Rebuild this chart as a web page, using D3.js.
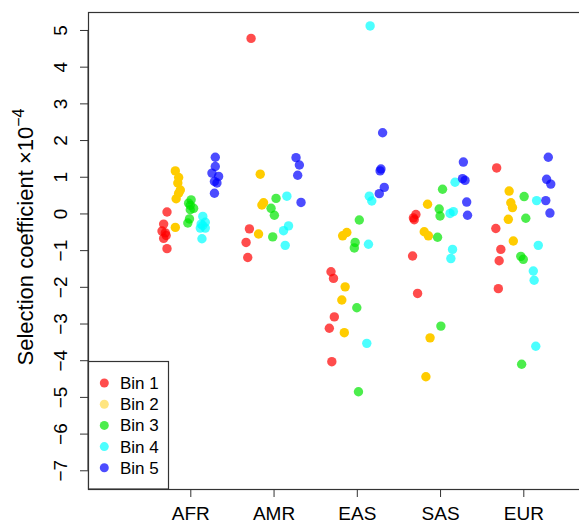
<!DOCTYPE html>
<html>
<head>
<meta charset="utf-8">
<title>Selection coefficient by bin</title>
<script src="https://cdn.jsdelivr.net/npm/d3@7"></script>
<style>
  body { margin: 0; background: #fff; }
  svg text { font-family: "Liberation Sans", Arial, sans-serif; fill: #000; }
</style>
</head>
<body>
<div id="chart"></div>
<script>
// populations on the x axis and the five bins
var pops = ["AFR", "AMR", "EAS", "SAS", "EUR"];
var bins = ["Bin 1", "Bin 2", "Bin 3", "Bin 4", "Bin 5"];
var yTicks = [-7, -6, -5, -4, -3, -2, -1, 0, 1, 2, 3, 4, 5];

// values (x 1e-4), one list per population
var bin1Values = [[0.04, -0.29, -0.48, -0.53, -0.6, -0.68, -0.96], [4.77, -0.42, -0.79, -1.2], [-1.59, -1.77, -2.82, -3.13, -4.04], [-0.03, -0.12, -0.17, -1.16, -2.18], [1.24, -0.41, -0.98, -1.29, -2.05]];
var bin2Values = [[1.16, 0.98, 0.83, 0.64, 0.55, 0.40, -0.38], [1.07, 0.29, 0.23, -0.56], [-0.52, -0.61, -2.0, -2.36, -3.25], [0.25, -0.5, -0.61, -3.39, -4.45], [0.61, 0.29, 0.16, -0.16, -0.75]];
var bin3Values = [[0.37, 0.28, 0.22, 0.14, 0.10, -0.15, -0.26], [0.41, 0.14, -0.05, -0.64], [-0.18, -0.79, -0.94, -2.57, -4.86], [0.66, 0.12, -0.07, -0.65, -3.07], [0.46, -0.13, -1.17, -1.25, -4.11]];
var bin4Values = [[-0.08, -0.24, -0.29, -0.33, -0.40, -0.40, -0.69], [0.47, -0.34, -0.47, -0.87], [5.11, 0.47, 0.34, -0.84, -3.54], [0.85, 0.05, 0.0, -0.98, -1.23], [0.35, -0.87, -1.57, -1.82, -3.62]];
var bin5Values = [[1.53, 1.28, 1.10, 1.01, 0.87, 0.83, 0.55], [1.52, 1.32, 1.04, 0.30], [2.20, 1.21, 1.16, 0.71, 0.54], [1.40, 0.95, 0.90, 0.31, -0.05], [1.53, 0.93, 0.80, 0.35, 0.01]];

// horizontal jitter of each point, in category units
var bin1Jitter = [[-0.28, -0.32, -0.34, -0.30, -0.29, -0.32, -0.28], [-0.27, -0.29, -0.33, -0.31], [-0.31, -0.28, -0.27, -0.33, -0.30], [-0.29, -0.32, -0.31, -0.33, -0.27], [-0.32, -0.33, -0.27, -0.29, -0.30]];
var bin2Jitter = [[-0.18, -0.14, -0.15, -0.12, -0.14, -0.17, -0.18], [-0.16, -0.12, -0.14, -0.18], [-0.12, -0.17, -0.14, -0.18, -0.15], [-0.15, -0.19, -0.14, -0.12, -0.17], [-0.17, -0.15, -0.13, -0.18, -0.12]];
var bin3Jitter = [[0.01, -0.02, 0.0, 0.04, 0.0, -0.01, -0.03], [0.03, -0.03, 0.01, -0.01], [0.03, -0.02, -0.03, 0.0, 0.02], [0.03, -0.01, 0.0, -0.03, 0.01], [0.01, 0.03, -0.03, 0.0, -0.02]];
var bin4Jitter = [[0.15, 0.18, 0.13, 0.15, 0.18, 0.12, 0.14], [0.16, 0.18, 0.12, 0.14], [0.16, 0.15, 0.18, 0.14, 0.12], [0.18, 0.16, 0.12, 0.15, 0.13], [0.16, 0.18, 0.12, 0.13, 0.15]];
var bin5Jitter = [[0.30, 0.30, 0.26, 0.34, 0.29, 0.32, 0.29], [0.27, 0.31, 0.29, 0.33], [0.31, 0.29, 0.28, 0.33, 0.27], [0.28, 0.27, 0.30, 0.32, 0.33], [0.30, 0.28, 0.33, 0.27, 0.32]];

var binColors = ["rgba(255,0,0,0.7)", "rgb(255,204,0)", "rgba(0,230,0,0.7)", "rgba(0,255,255,0.7)", "rgba(0,0,255,0.7)"];
var legendColors = ["rgba(255,0,0,0.7)", "rgba(255,204,0,0.5)", "rgba(0,230,0,0.7)", "rgba(0,255,255,0.7)", "rgba(0,0,255,0.7)"];

var width = 579, height = 522;
var plotLeft = 88, plotTop = 12, plotBottom = 489;

var svg = d3.select("#chart").append("svg").attr("width", width).attr("height", height);

var x = d3.scaleLinear().domain([1, 5]).range([190.3, 523.3]);
var y = d3.scaleLinear().domain([-7.51, 5.49]).range([plotBottom, plotTop]);

// flatten into points
var allValues = [bin1Values, bin2Values, bin3Values, bin4Values, bin5Values];
var allJitter = [bin1Jitter, bin2Jitter, bin3Jitter, bin4Jitter, bin5Jitter];
var points = [];
allValues.forEach(function(binVals, b) {
  binVals.forEach(function(vals, p) {
    vals.forEach(function(v, i) {
      points.push({bin: b, pop: p, value: v, dx: allJitter[b][p][i]});
    });
  });
});

svg.selectAll("circle.pt").data(points).enter().append("circle")
  .attr("class", "pt")
  .attr("cx", function(d) { return x(d.pop + 1 + d.dx); })
  .attr("cy", function(d) { return y(d.value); })
  .attr("r", 4.7)
  .attr("fill", function(d) { return binColors[d.bin]; });

// box
svg.append("rect").attr("x", plotLeft + 0.5).attr("y", plotTop + 0.5)
  .attr("width", 600).attr("height", plotBottom - plotTop)
  .attr("fill", "none").attr("stroke", "#333").attr("stroke-width", 1.2);

// y axis
var yAxis = svg.append("g").attr("transform", "translate(" + plotLeft + ",0)")
  .call(d3.axisLeft(y).tickValues(yTicks).tickSize(8).tickFormat(function(d) { return d < 0 ? "\u2212" + (-d) : d; }));
yAxis.select(".domain").attr("d", "M0," + y(-7) + "V" + y(5)).attr("stroke", "#333");
yAxis.selectAll(".tick line").attr("stroke", "#333");
yAxis.selectAll(".tick text")
  .attr("transform", "rotate(-90)")
  .attr("x", 0).attr("y", -21).attr("dy", null)
  .attr("text-anchor", "middle")
  .style("font-size", "19px");

// x axis
var xAxis = svg.append("g").attr("transform", "translate(0," + plotBottom + ")")
  .call(d3.axisBottom(x).tickValues([1, 2, 3, 4, 5]).tickSize(8).tickPadding(10)
    .tickFormat(function(d) { return pops[d - 1]; }));
xAxis.select(".domain").remove();
xAxis.selectAll(".tick line").attr("stroke", "#333");
xAxis.selectAll(".tick text").style("font-size", "19px");

// y label
var label = svg.append("text")
  .attr("transform", "translate(33,237) rotate(-90)")
  .attr("text-anchor", "middle")
  .style("font-size", "22px");
label.append("tspan").text("Selection coefficient \u00d710");
label.append("tspan").attr("dy", -9).style("font-size", "16px").text("\u22124");

// legend
var legend = svg.append("g");
legend.append("rect").attr("x", plotLeft + 0.5).attr("y", 361.5)
  .attr("width", 80).attr("height", plotBottom - 361.5)
  .attr("fill", "#fff").attr("stroke", "#333").attr("stroke-width", 1.2);
var items = legend.selectAll("g.item").data(bins).enter().append("g")
  .attr("transform", function(d, i) { return "translate(0," + (383 + i * 21.2) + ")"; });
items.append("circle").attr("cx", 104.3).attr("cy", 0).attr("r", 4.5)
  .attr("fill", function(d, i) { return legendColors[i]; });
items.append("text").attr("x", 120).attr("y", 6).style("font-size", "17px")
  .text(function(d) { return d; });
</script>
</body>
</html>
